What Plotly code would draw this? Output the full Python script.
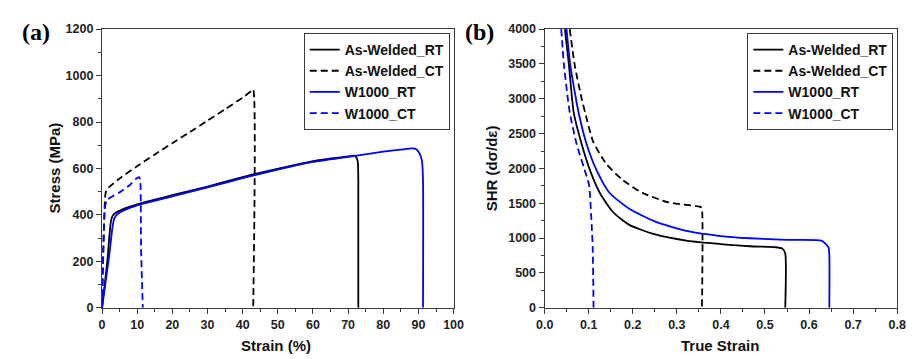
import plotly.graph_objects as go

# ---------------- Data: panel (a) engineering stress-strain ----------------
aw_rt_strain = [0, 1.5, 2.5, 3, 4, 6, 10, 20, 30, 40, 43, 54, 60, 70, 72, 72.7, 72.9, 72.9]
aw_rt_stress = [0, 200, 370, 395, 410, 425, 445, 485, 522, 563, 575, 612, 632, 652, 655, 633, 550, 0]

aw_ct_strain = [0, 0.9, 1.2, 2, 3, 5, 10, 15, 20, 25, 30, 35, 40, 42.5, 43, 43]
aw_ct_stress = [0, 480, 505, 520, 532, 557, 610, 660, 709, 757, 806, 855, 905, 934, 940, 0]

w_rt_strain = [0, 2, 3, 3.5, 4.5, 6, 10, 20, 30, 40, 50, 60, 70, 80, 85, 88, 89.5, 90.3, 91.0, 91.3, 91.3]
w_rt_stress = [0, 220, 350, 385, 405, 418, 441, 480, 518, 558, 595, 628, 650, 672, 681, 686, 682, 665, 633, 550, 0]

w_ct_strain = [0, 0.9, 1.5, 3, 5, 8, 9.6, 10.6, 10.9, 11.1, 11.6]
w_ct_stress = [0, 440, 465, 480, 497, 530, 555, 562, 540, 260, 0]

# ---------------- Data: panel (b) strain hardening rate ----------------
aw_rt_true = [0.046, 0.055, 0.066, 0.0844, 0.103, 0.125, 0.155, 0.192, 0.251, 0.325, 0.399, 0.466, 0.525, 0.54, 0.546, 0.546]
aw_rt_shr = [4000, 3490, 2800, 2340, 1972, 1651, 1375, 1190, 1053, 961, 915, 883, 869, 846, 780, 0]

aw_ct_true = [0.057, 0.068, 0.084, 0.092, 0.110, 0.14, 0.177, 0.2215, 0.281, 0.355, 0.357, 0.357]
aw_ct_shr = [4000, 3490, 3000, 2800, 2386, 2065, 1834, 1651, 1513, 1444, 1420, 0]

w_rt_true = [0.0496, 0.058, 0.071, 0.077, 0.0956, 0.118, 0.147, 0.192, 0.251, 0.325, 0.399, 0.466, 0.55, 0.629, 0.644, 0.646, 0.646]
w_rt_shr = [4000, 3490, 3000, 2800, 2340, 1972, 1651, 1421, 1237, 1099, 1030, 998, 975, 961, 869, 750, 0]

w_ct_true = [0.0376, 0.0437, 0.0526, 0.057, 0.073, 0.0956, 0.1007, 0.103, 0.1067, 0.109, 0.111]
w_ct_shr = [4000, 3490, 3000, 2800, 2340, 1880, 1766, 1604, 1190, 869, 0]

names = ["As-Welded_RT", "As-Welded_CT", "W1000_RT", "W1000_CT"]

BLACK = "#000000"
BLUE = "#0000FF"
DASH = "7px,4px"
AX = "#3a3a3a"
SANS = "Liberation Sans, Arial, sans-serif"

fig = go.Figure()

left = [(aw_rt_strain, aw_rt_stress, BLACK, "solid"),
        (aw_ct_strain, aw_ct_stress, BLACK, DASH),
        (w_rt_strain, w_rt_stress, BLUE, "solid"),
        (w_ct_strain, w_ct_stress, BLUE, DASH)]
right = [(aw_rt_true, aw_rt_shr, BLACK, "solid"),
         (aw_ct_true, aw_ct_shr, BLACK, DASH),
         (w_rt_true, w_rt_shr, BLUE, "solid"),
         (w_ct_true, w_ct_shr, BLUE, DASH)]

for nm, (x, y, c, d) in zip(names, left):
    fig.add_trace(go.Scatter(x=x, y=y, mode="lines", name=nm,
                             line=dict(color=c, width=1.8, dash=d, shape="spline", smoothing=0.6),
                             xaxis="x", yaxis="y", legend="legend"))
for nm, (x, y, c, d) in zip(names, right):
    fig.add_trace(go.Scatter(x=x, y=y, mode="lines", name=nm,
                             line=dict(color=c, width=1.8, dash=d, shape="spline", smoothing=0.6),
                             xaxis="x2", yaxis="y2", legend="legend2"))

W, H = 916, 359
ydom = [1 - 313 / H, 1 - 23 / H]

def axis_common():
    return dict(showline=True, linecolor=AX, linewidth=1.3, mirror=True,
                ticks="outside", ticklen=5, tickwidth=1.2, tickcolor=AX,
                showgrid=False, zeroline=False,
                tickfont=dict(family=SANS, size=12.5, color="#222", weight="bold"))

xa = axis_common(); xa.update(domain=[95 / W, 454 / W], range=[0, 100], dtick=10, tick0=0,
                              minor=dict(ticks="outside", ticklen=3, dtick=5, tickcolor=AX), anchor="y")
ya = axis_common(); ya.update(domain=ydom, range=[0, 1200], dtick=200, tick0=0,
                              minor=dict(ticks="outside", ticklen=3, dtick=100, tickcolor=AX), anchor="x")
xb = axis_common(); xb.update(domain=[547 / W, 907 / W], range=[0, 0.8], dtick=0.1, tick0=0, tickformat=".1f",
                              minor=dict(ticks="outside", ticklen=3, dtick=0.05, tickcolor=AX), anchor="y2")
yb = axis_common(); yb.update(domain=ydom, range=[0, 4000], dtick=500, tick0=0,
                              minor=dict(ticks="outside", ticklen=3, dtick=250, tickcolor=AX), anchor="x2")

legfont = dict(family=SANS, size=14, color="#111", weight="bold")

fig.update_layout(
    width=W, height=H,
    margin=dict(l=0, r=0, t=0, b=0),
    paper_bgcolor="white", plot_bgcolor="white",
    xaxis=xa, yaxis=ya, xaxis2=xb, yaxis2=yb,
    legend=dict(x=301 / W, y=1 - 27 / H, xanchor="left", yanchor="top",
                bgcolor="white", bordercolor=AX, borderwidth=1, font=legfont,
                tracegroupgap=0, itemwidth=30),
    legend2=dict(x=754 / W, y=1 - 27 / H, xanchor="left", yanchor="top",
                 bgcolor="white", bordercolor=AX, borderwidth=1, font=legfont,
                 tracegroupgap=0, itemwidth=30),
    showlegend=True,
)

title_font = dict(family=SANS, size=15, color="#111", weight="bold")
anns = [
    dict(text="Strain (%)", x=273 / W, y=1 - 352 / H, textangle=0),
    dict(text="True Strain", x=726 / W, y=1 - 352 / H, textangle=0),
    dict(text="Stress (MPa)", x=46 / W, y=1 - 168 / H, textangle=-90),
    dict(text="SHR (dσ/dε)", x=493 / W, y=1 - 168 / H, textangle=-90),
]
for a in anns:
    fig.add_annotation(xref="paper", yref="paper", xanchor="center", yanchor="middle",
                       showarrow=False, font=title_font, **a)

panel_font = dict(family="Liberation Serif, Times New Roman, serif", size=24, color="#000", weight="bold")
fig.add_annotation(text="(a)", xref="paper", yref="paper", x=28 / W, y=1 - 26 / H,
                   xanchor="center", yanchor="middle", showarrow=False, font=panel_font)
fig.add_annotation(text="(b)", xref="paper", yref="paper", x=480 / W, y=1 - 26 / H,
                   xanchor="center", yanchor="middle", showarrow=False, font=panel_font)

fig.write_html("out.html")
